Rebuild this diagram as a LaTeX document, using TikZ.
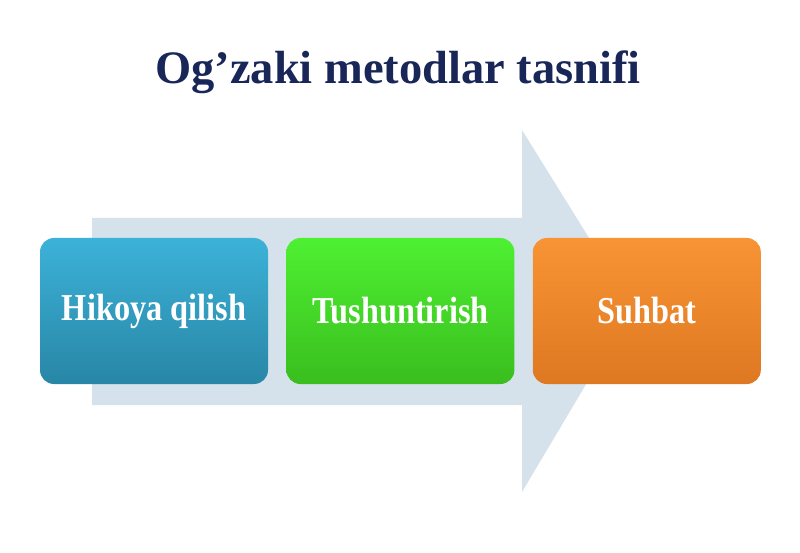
\documentclass[tikz,border=0pt]{standalone}
\usepackage{fontspec}
\setmainfont{Liberation Serif}
\newfontfamily\boxfont[FakeStretch=0.85]{Liberation Serif}
\usetikzlibrary{positioning}
\definecolor{navytitle}{RGB}{24,38,88}
\definecolor{arrowgrey}{RGB}{213,226,235}
\begin{document}
\begin{tikzpicture}[x=1pt,y=-1pt,
  stepbox/.style={rounded corners=14pt,minimum width=228pt,minimum height=146pt,
    text=white,font=\boxfont\bfseries\fontsize{38}{38}\selectfont,inner sep=0pt}]
\useasboundingbox (0,0) rectangle (800,553);

\fill[arrowgrey] (92,218) -- (522,218) -- (522,130) -- (632,307) -- (522,492) -- (522,405) -- (92,405) -- cycle;

\node[font=\bfseries\fontsize{46.5}{46.5}\selectfont,text=navytitle] (title) at (398,72) {Og’zaki metodlar tasnifi};

\node[stepbox,top color={rgb,255:red,60;green,178;blue,216},bottom color={rgb,255:red,40;green,134;blue,166}] (hikoya) at (154,311) {Hikoya qilish};
\node[stepbox,top color={rgb,255:red,78;green,240;blue,50},bottom color={rgb,255:red,58;green,190;blue,30},right=18pt of hikoya] (tushun) {Tushuntirish};
\node[stepbox,top color={rgb,255:red,248;green,148;blue,52},bottom color={rgb,255:red,222;green,120;blue,34},right=18pt of tushun] (suhbat) {Suhbat};
\end{tikzpicture}
\end{document}
